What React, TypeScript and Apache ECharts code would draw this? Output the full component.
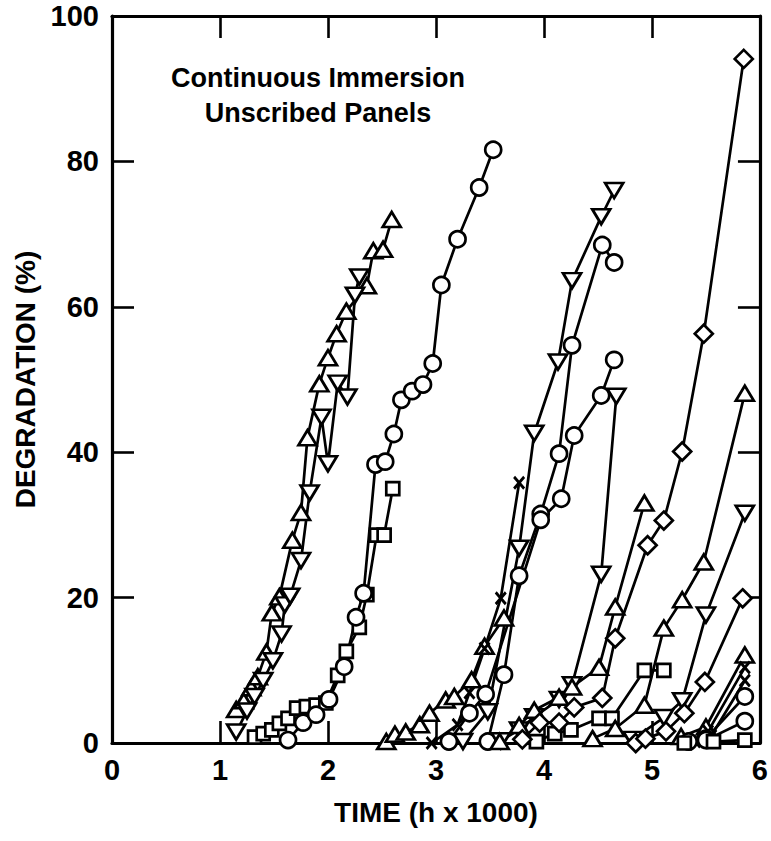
import React, { useEffect, useRef } from "react";
import * as echarts from "echarts";

// Axis ticks
const xTickValues = [0, 1, 2, 3, 4, 5, 6];
const yTickValues = [0, 20, 40, 60, 80, 100];

// Left cluster
const triUpA = [[1.15, 4.6], [1.22, 5.8], [1.29, 7.6], [1.35, 9.1], [1.43, 12.5], [1.48, 17.9], [1.55, 20.1], [1.67, 27.9], [1.75, 31.7], [1.81, 42], [1.92, 49.4], [2.0, 53], [2.08, 56.3], [2.17, 59.4], [2.36, 62.9], [2.42, 67.7], [2.51, 67.9], [2.59, 72]];
const triDownB = [[1.15, 1.5], [1.25, 4.4], [1.32, 6.4], [1.4, 8.6], [1.49, 11.3], [1.57, 15], [1.6, 19], [1.65, 20.2], [1.75, 25.1], [1.83, 34.4], [1.94, 44.8], [2.0, 38.4], [2.09, 49.5], [2.18, 47.6], [2.25, 61.6], [2.29, 64.1]];
const squaresL = [[1.32, 0.8], [1.4, 1.3], [1.48, 1.8], [1.55, 2.7], [1.63, 3.4], [1.71, 4.8], [1.8, 5], [1.89, 5.2], [1.98, 5.5], [2.09, 9.3], [2.17, 12.6], [2.29, 15.9], [2.36, 20.4], [2.45, 28.6], [2.52, 28.6], [2.6, 35]];
const circlesL = [[1.63, 0.4], [1.77, 2.8], [1.89, 3.9], [2.01, 6], [2.15, 10.5], [2.26, 17.3], [2.33, 20.6], [2.44, 38.3], [2.53, 38.7], [2.61, 42.5], [2.68, 47.2], [2.78, 48.4], [2.88, 49.3], [2.97, 52.2], [3.05, 63], [3.2, 69.3], [3.4, 76.4], [3.53, 81.6]];

// Middle cluster
const triUpM = [[2.54, 0.2], [2.62, 1.2], [2.72, 1.5], [2.85, 2.5], [2.94, 4.1], [3.09, 5.9], [3.17, 6.4], [3.33, 8.7], [3.45, 13.3], [3.63, 17.2]];
const crossM = [[2.96, 0], [3.2, 2.5], [3.31, 6.9], [3.45, 13], [3.6, 19.9], [3.77, 35.8]];
const triDownD1 = [[3.25, 0.2], [3.48, 4.3], [3.77, 26.8], [3.91, 42.6], [4.13, 52.4], [4.26, 63.6], [4.53, 72.4], [4.65, 76]];
const circlesC3 = [[3.48, 0.2], [3.63, 9.4], [3.77, 23], [3.97, 31.5], [4.14, 39.8], [4.26, 54.7], [4.54, 68.5], [4.65, 66.1]];
const circlesC4 = [[3.12, 0.2], [3.31, 4.1], [3.46, 6.7], [3.97, 30.7], [4.16, 33.6], [4.28, 42.3], [4.53, 47.8], [4.65, 52.7]];
const triDownD2 = [[3.6, 0.3], [3.77, 1.8], [3.91, 3.6], [4.14, 6], [4.26, 8], [4.53, 23.2], [4.67, 47.7]];
const triUpR2 = [[3.59, 0.2], [3.77, 2.4], [3.91, 4.5], [4.14, 6.3], [4.26, 7.7], [4.51, 10.4], [4.66, 18.7], [4.93, 33]];
const squaresR = [[3.93, 0.2], [4.1, 1.3], [4.25, 1.8], [4.51, 3.4], [4.63, 3.4], [4.93, 10], [5.11, 10]];

// Right cluster
const diamondsR1 = [[3.8, 0.5], [3.96, 2.8], [4.14, 2.8], [4.28, 4.9], [4.54, 6.2], [4.66, 14.4], [4.96, 27.2], [5.11, 30.6], [5.28, 40.1], [5.48, 56.3], [5.85, 94.1]];
const triUpR1 = [[4.45, 0.6], [4.66, 2], [4.93, 5.2], [5.11, 15.8], [5.28, 19.7], [5.48, 24.9], [5.86, 48.1]];
const triDownR = [[4.82, 0.5], [5.11, 3.5], [5.28, 5.8], [5.5, 17.6], [5.86, 31.6]];
const diamondsR2 = [[4.85, 0], [4.94, 0.6], [5.13, 1.6], [5.3, 4.1], [5.49, 8.4], [5.84, 19.9]];
const triUpR3 = [[5.27, 0.9], [5.5, 2.2], [5.86, 12.1]];
const crossR1 = [[5.35, 0.2], [5.52, 1.6], [5.86, 10.4]];
const crossR2 = [[5.4, 0.2], [5.55, 1], [5.86, 8.6]];
const circlesR1 = [[5.34, 0.2], [5.5, 0.6], [5.86, 6.4]];
const circlesR2 = [[5.5, 0.4], [5.86, 3]];
const squaresR2 = [[5.3, 0], [5.57, 0.2], [5.86, 0.4]];

const FONT = "Liberation Sans";
const CROSS = "path://M0,1.6L1.6,0L5,3.4L8.4,0L10,1.6L6.6,5L10,8.4L8.4,10L5,6.6L1.6,10L0,8.4L3.4,5Z";

type Kind = "up" | "down" | "circle" | "square" | "diamond" | "cross";

function mk(data: number[][], kind: Kind) {
  const base: any = {
    type: "line",
    data,
    lineStyle: { color: "#000", width: 2.7 },
    itemStyle: { color: "#fff", borderColor: "#000", borderWidth: 2.7 },
    showSymbol: true,
    z: 3,
  };
  switch (kind) {
    case "up":
      base.symbol = "triangle";
      base.symbolSize = [18, 15];
      break;
    case "down":
      base.symbol = "triangle";
      base.symbolSize = [18, 15];
      base.symbolRotate = 180;
      break;
    case "circle":
      base.symbol = "circle";
      base.symbolSize = 16;
      break;
    case "square":
      base.symbol = "rect";
      base.symbolSize = 13;
      break;
    case "diamond":
      base.symbol = "diamond";
      base.symbolSize = [18, 18];
      break;
    case "cross":
      base.symbol = CROSS;
      base.symbolSize = [12, 14];
      base.itemStyle = { color: "#000", borderWidth: 0 };
      break;
  }
  return base;
}

const axisLineStyle = { color: "#000", width: 3.2 };
const tickStyle = { color: "#000", width: 2.6 };
const labelStyle = { color: "#000", fontSize: 29, fontWeight: "bold", fontFamily: FONT };
const nameStyle = { color: "#000", fontSize: 28, fontWeight: "bold", fontFamily: FONT };

export default function App() {
  const ref = useRef<HTMLDivElement>(null);
  useEffect(() => {
    document.body.style.margin = "0";
    const chart = echarts.init(ref.current!, null, { renderer: "svg" });
    chart.setOption({
      animation: false,
      backgroundColor: "#fff",
      grid: { left: 112, top: 16, width: 649, height: 727, containLabel: false },
      xAxis: [
        {
          type: "value",
          position: "bottom",
          min: xTickValues[0],
          max: xTickValues[xTickValues.length - 1],
          interval: 1,
          axisLine: { show: true, onZero: false, lineStyle: axisLineStyle },
          axisTick: { show: true, inside: true, length: 22, lineStyle: tickStyle },
          axisLabel: { ...labelStyle, margin: 12 },
          splitLine: { show: false },
          name: "TIME (h x 1000)",
          nameLocation: "middle",
          nameGap: 55,
          nameTextStyle: { ...nameStyle },
        },
        {
          type: "value",
          position: "top",
          min: 0,
          max: 6,
          interval: 1,
          axisLine: { show: true, onZero: false, lineStyle: axisLineStyle },
          axisTick: { show: true, inside: true, length: 22, lineStyle: tickStyle },
          axisLabel: { show: false },
          splitLine: { show: false },
        },
      ],
      yAxis: [
        {
          type: "value",
          position: "left",
          min: yTickValues[0],
          max: yTickValues[yTickValues.length - 1],
          interval: 20,
          axisLine: { show: true, onZero: false, lineStyle: axisLineStyle },
          axisTick: { show: true, inside: true, length: 22, lineStyle: tickStyle },
          axisLabel: { ...labelStyle, margin: 13 },
          splitLine: { show: false },
          name: "DEGRADATION (%)",
          nameLocation: "middle",
          nameGap: 68,
          nameRotate: 90,
          nameTextStyle: { ...nameStyle },
        },
        {
          type: "value",
          position: "right",
          min: 0,
          max: 100,
          interval: 20,
          axisLine: { show: true, onZero: false, lineStyle: axisLineStyle },
          axisTick: { show: true, inside: true, length: 22, lineStyle: tickStyle },
          axisLabel: { show: false },
          splitLine: { show: false },
        },
      ],
      graphic: [
        {
          type: "text",
          x: 318,
          y: 78,
          style: { text: "Continuous Immersion", fontSize: 27, fontWeight: "bold", fontFamily: FONT, fill: "#000", align: "center", verticalAlign: "middle" },
        },
        {
          type: "text",
          x: 318,
          y: 113,
          style: { text: "Unscribed Panels", fontSize: 27, fontWeight: "bold", fontFamily: FONT, fill: "#000", align: "center", verticalAlign: "middle" },
        },
      ],
      series: [
        mk(triUpA, "up"),
        mk(triDownB, "down"),
        mk(squaresL, "square"),
        mk(circlesL, "circle"),
        mk(triUpM, "up"),
        mk(crossM, "cross"),
        mk(triDownD1, "down"),
        mk(circlesC3, "circle"),
        mk(circlesC4, "circle"),
        mk(triDownD2, "down"),
        mk(triUpR2, "up"),
        mk(squaresR, "square"),
        mk(diamondsR1, "diamond"),
        mk(triUpR1, "up"),
        mk(triDownR, "down"),
        mk(diamondsR2, "diamond"),
        mk(triUpR3, "up"),
        mk(crossR1, "cross"),
        mk(crossR2, "cross"),
        mk(circlesR1, "circle"),
        mk(circlesR2, "circle"),
        mk(squaresR2, "square"),
      ],
    });
    return () => chart.dispose();
  }, []);
  return <div ref={ref} style={{ width: 771, height: 841 }} />;
}
